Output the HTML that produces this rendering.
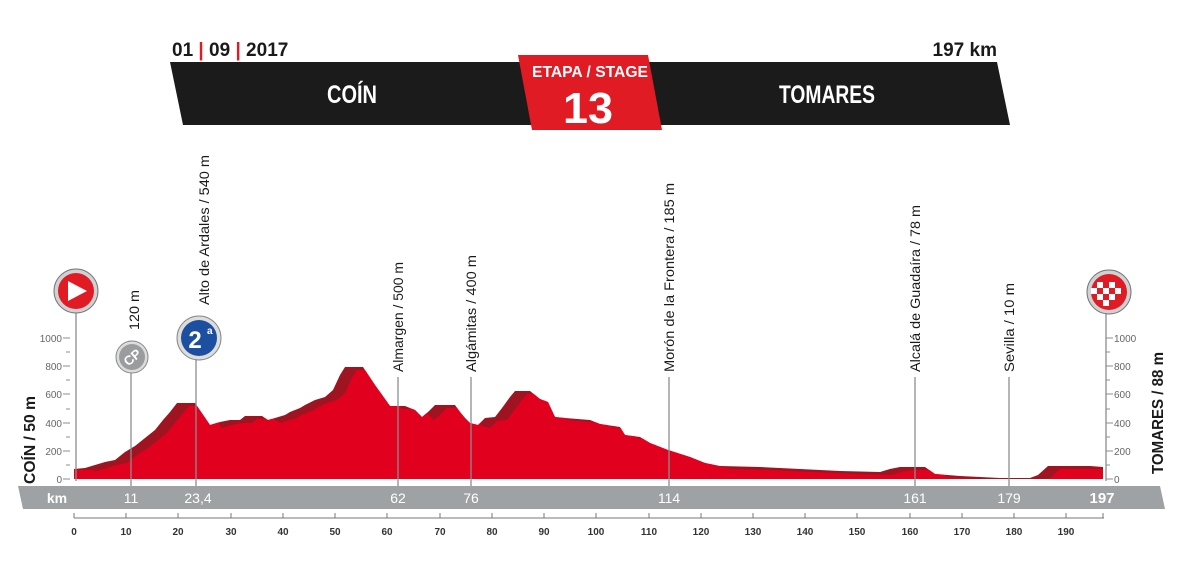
<!DOCTYPE html>
<html><head><meta charset="utf-8"><style>
html,body{margin:0;padding:0;background:#fff;width:1200px;height:568px;overflow:hidden}
svg{display:block}
.c{font-family:"Liberation Sans",sans-serif}
</style></head><body>
<svg width="1200" height="568" viewBox="0 0 1200 568" xmlns="http://www.w3.org/2000/svg" class="c">
<defs>
<clipPath id="sil"><path id="silp" d="M74,469 L85,468 95,465 105,462 115,460 125,452 135,446 145,438 155,430 163,420 170,412 177,403 195,403 210,425 220,422 230,420 240,420 245,416 262,416 268,420 275,418 285,415 290,412 300,408 305,405 315,400 325,397 333,390 340,375 345,367 363,367 375,385 390,406 405,406 415,410 422,417 428,412 435,405 455,405 460,412 465,418 470,423 478,425 485,418 495,417 502,408 510,397 515,391 530,391 540,399 548,402 555,417 565,418 590,420 600,424 620,427 625,435 640,437 650,443 668,450 690,457 705,463 720,466 760,467 800,469 840,471 880,472 890,469 900,467 925,467 935,474 960,476 1000,478 1030,478 1038,475 1048,466 1090,466 1103,467 1103,479 74,479Z"/></clipPath>
</defs>
<!-- header -->
<text x="172" y="56" font-size="19" font-weight="bold" fill="#1a1a1a" transform="scale(1,1)">01 <tspan fill="#e01b24">|</tspan> 09 <tspan fill="#e01b24">|</tspan> 2017</text>
<text x="997" y="56" font-size="19" font-weight="bold" fill="#1a1a1a" text-anchor="end">197 km</text>
<polygon points="170,62 997,62 1010,125 183,125" fill="#1b1b1b"/>
<text x="352" y="103" font-size="25" font-weight="bold" fill="#fff" text-anchor="middle" textLength="50" lengthAdjust="spacingAndGlyphs">COÍN</text>
<text x="827" y="103" font-size="25" font-weight="bold" fill="#fff" text-anchor="middle" textLength="96" lengthAdjust="spacingAndGlyphs">TOMARES</text>
<polygon points="518,55 648,55 662,130 532,130" fill="#e01b24"/>
<text x="590" y="77" font-size="16" font-weight="bold" fill="#fff" text-anchor="middle" textLength="116" lengthAdjust="spacingAndGlyphs">ETAPA / STAGE</text>
<text x="588" y="123" font-size="44" font-weight="bold" fill="#fff" text-anchor="middle" textLength="50" lengthAdjust="spacingAndGlyphs">13</text>
<!-- profile -->
<use href="#silp" fill="#9e1420"/>
<g clip-path="url(#sil)"><use href="#silp" fill="#e2001f" transform="translate(12,3)"/><rect x="74" y="470" width="20" height="10" fill="#e2001f"/></g>
<!-- vertical lines -->
<g stroke="#8a8d90" stroke-width="1.3">
<line x1="76" y1="312" x2="76" y2="481"/><line x1="1106" y1="312" x2="1106" y2="481"/>
<line x1="131" y1="372" x2="131" y2="486"/><line x1="196" y1="358" x2="196" y2="486"/>
<line x1="398" y1="377" x2="398" y2="486"/><line x1="471" y1="377" x2="471" y2="486"/>
<line x1="669" y1="377" x2="669" y2="486"/><line x1="915" y1="377" x2="915" y2="486"/>
<line x1="1009" y1="377" x2="1009" y2="486"/>
</g>
<!-- y axes -->
<g stroke="#8a8d90" stroke-width="1">
<line x1="63" y1="479" x2="70" y2="479"/><line x1="66" y1="465" x2="70" y2="465"/><line x1="63" y1="451" x2="70" y2="451"/><line x1="66" y1="437" x2="70" y2="437"/><line x1="63" y1="423" x2="70" y2="423"/><line x1="66" y1="409" x2="70" y2="409"/><line x1="63" y1="394" x2="70" y2="394"/><line x1="66" y1="380" x2="70" y2="380"/><line x1="63" y1="366" x2="70" y2="366"/><line x1="66" y1="352" x2="70" y2="352"/><line x1="63" y1="338" x2="70" y2="338"/>
<line x1="1106" y1="479" x2="1113" y2="479"/><line x1="1106" y1="465" x2="1110" y2="465"/><line x1="1106" y1="451" x2="1113" y2="451"/><line x1="1106" y1="437" x2="1110" y2="437"/><line x1="1106" y1="423" x2="1113" y2="423"/><line x1="1106" y1="409" x2="1110" y2="409"/><line x1="1106" y1="394" x2="1113" y2="394"/><line x1="1106" y1="380" x2="1110" y2="380"/><line x1="1106" y1="366" x2="1113" y2="366"/><line x1="1106" y1="352" x2="1110" y2="352"/><line x1="1106" y1="338" x2="1113" y2="338"/>
</g>
<g font-size="10" fill="#666" text-anchor="end">
<text x="62" y="483">0</text><text x="62" y="455">200</text><text x="62" y="427">400</text><text x="62" y="398">600</text><text x="62" y="370">800</text><text x="62" y="342">1000</text>
</g>
<g font-size="10" fill="#666">
<text x="1114" y="483">0</text><text x="1114" y="455">200</text><text x="1114" y="427">400</text><text x="1114" y="398">600</text><text x="1114" y="370">800</text><text x="1114" y="342">1000</text>
</g>
<text transform="translate(35,440) rotate(-90)" font-size="16" font-weight="bold" fill="#1a1a1a" text-anchor="middle" textLength="88" lengthAdjust="spacingAndGlyphs">COÍN / 50 m</text>
<text transform="translate(1163,413) rotate(-90)" font-size="16" font-weight="bold" fill="#1a1a1a" text-anchor="middle" textLength="122" lengthAdjust="spacingAndGlyphs">TOMARES / 88 m</text>
<!-- rotated labels -->
<g font-size="14" fill="#1a1a1a">
<text transform="translate(139,330) rotate(-90)" textLength="40" lengthAdjust="spacingAndGlyphs">120 m</text>
<text transform="translate(209,305) rotate(-90)" textLength="150" lengthAdjust="spacingAndGlyphs">Alto de Ardales / 540 m</text>
<text transform="translate(403,372) rotate(-90)" textLength="110" lengthAdjust="spacingAndGlyphs">Almargen / 500 m</text>
<text transform="translate(476,372) rotate(-90)" textLength="117" lengthAdjust="spacingAndGlyphs">Algámitas / 400 m</text>
<text transform="translate(674,372) rotate(-90)" textLength="189" lengthAdjust="spacingAndGlyphs">Morón de la Frontera / 185 m</text>
<text transform="translate(920,372) rotate(-90)" textLength="167" lengthAdjust="spacingAndGlyphs">Alcalá de Guadaíra / 78 m</text>
<text transform="translate(1014,372) rotate(-90)" textLength="89" lengthAdjust="spacingAndGlyphs">Sevilla / 10 m</text>
</g>
<!-- icons -->
<circle cx="76" cy="291" r="22" fill="#cfd1d3" stroke="#777" stroke-width="1"/>
<circle cx="76" cy="291" r="18" fill="#e01b24"/>
<polygon points="68,281 68,301 87,291" fill="#fff"/>
<circle cx="1109" cy="292" r="22" fill="#cfd1d3" stroke="#777" stroke-width="1"/>
<circle cx="1109" cy="292" r="18" fill="#e01b24"/>
<g fill="#fff">
<rect x="1097" y="282" width="6" height="6"/><rect x="1109" y="282" width="6" height="6"/>
<rect x="1103" y="288" width="6" height="6"/><rect x="1115" y="288" width="6" height="6"/><rect x="1091" y="288" width="6" height="6"/>
<rect x="1097" y="294" width="6" height="6"/><rect x="1109" y="294" width="6" height="6"/>
<rect x="1103" y="300" width="6" height="6"/>
</g>
<circle cx="132" cy="357" r="16" fill="#ddd" stroke="#888" stroke-width="1"/>
<circle cx="132" cy="357" r="13" fill="#9a9c9e"/>
<text x="132" y="362" font-size="13" font-weight="bold" fill="#fff" text-anchor="middle" transform="rotate(-40 132 357)">CP</text>
<circle cx="199" cy="338" r="22" fill="#ddd" stroke="#888" stroke-width="1"/>
<circle cx="199" cy="338" r="18" fill="#1d4fa0"/>
<text x="195" y="348" font-size="24" font-weight="bold" fill="#fff" text-anchor="middle">2</text>
<text x="207" y="334" font-size="10" font-weight="bold" fill="#fff">a</text>
<!-- km band -->
<polygon points="18,486 1160,486 1165,509 23,509" fill="#9ea2a5"/>
<g font-size="14" fill="#fff" text-anchor="middle">
<text x="57" y="503" font-weight="bold">km</text>
<text x="131" y="503">11</text><text x="198" y="503">23,4</text><text x="398" y="503">62</text>
<text x="471" y="503">76</text><text x="669" y="503">114</text><text x="915" y="503">161</text>
<text x="1009" y="503">179</text><text x="1102" y="503" font-weight="bold" font-size="15">197</text>
</g>
<!-- x axis -->
<line x1="74" y1="518" x2="1104" y2="518" stroke="#777" stroke-width="1"/>
<g stroke="#777" stroke-width="1">
<line x1="74" y1="513" x2="74" y2="518"/><line x1="126" y1="513" x2="126" y2="518"/><line x1="178" y1="513" x2="178" y2="518"/><line x1="231" y1="513" x2="231" y2="518"/><line x1="283" y1="513" x2="283" y2="518"/><line x1="335" y1="513" x2="335" y2="518"/><line x1="387" y1="513" x2="387" y2="518"/><line x1="440" y1="513" x2="440" y2="518"/><line x1="492" y1="513" x2="492" y2="518"/><line x1="544" y1="513" x2="544" y2="518"/><line x1="596" y1="513" x2="596" y2="518"/><line x1="649" y1="513" x2="649" y2="518"/><line x1="701" y1="513" x2="701" y2="518"/><line x1="753" y1="513" x2="753" y2="518"/><line x1="805" y1="513" x2="805" y2="518"/><line x1="857" y1="513" x2="857" y2="518"/><line x1="910" y1="513" x2="910" y2="518"/><line x1="962" y1="513" x2="962" y2="518"/><line x1="1014" y1="513" x2="1014" y2="518"/><line x1="1066" y1="513" x2="1066" y2="518"/><line x1="1103" y1="513" x2="1103" y2="518"/>
</g>
<g font-size="10" font-weight="bold" fill="#333" text-anchor="middle">
<text x="74" y="535">0</text><text x="126" y="535">10</text><text x="178" y="535">20</text><text x="231" y="535">30</text><text x="283" y="535">40</text><text x="335" y="535">50</text><text x="387" y="535">60</text><text x="440" y="535">70</text><text x="492" y="535">80</text><text x="544" y="535">90</text><text x="596" y="535">100</text><text x="649" y="535">110</text><text x="701" y="535">120</text><text x="753" y="535">130</text><text x="805" y="535">140</text><text x="857" y="535">150</text><text x="910" y="535">160</text><text x="962" y="535">170</text><text x="1014" y="535">180</text><text x="1066" y="535">190</text>
</g>
</svg>
</body></html>
